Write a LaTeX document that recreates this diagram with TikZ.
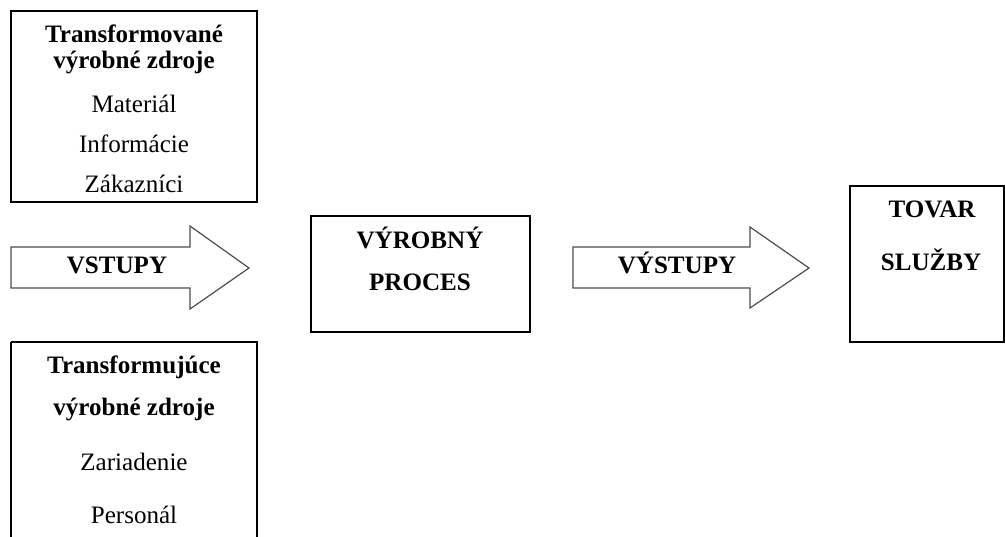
\documentclass[tikz,border=0pt]{standalone}
\usepackage{fontspec}
\setmainfont{Liberation Serif}
\begin{document}
\begin{tikzpicture}[x=0.75pt,y=-0.75pt,
  frame/.style={draw=black,line width=0.9pt},
  blockarrow/.style={draw=black!70,line width=0.9pt,line join=miter},
  head/.style={anchor=base,inner sep=0pt,font=\fontsize{18.8}{22}\selectfont\bfseries},
  item/.style={anchor=base,inner sep=0pt,font=\fontsize{18.8}{22}\selectfont}]
\useasboundingbox (0,0) rectangle (1005,536);

% transformovane zdroje
\draw[frame] (11,11) rectangle (257,202);
\node[head] (tvz1) at (134,42) {Transformované};
\node[head] (tvz2) at (134,68) {výrobné zdroje};
\node[item] (mat) at (134,112) {Materiál};
\node[item] (inf) at (134,152) {Informácie};
\node[item] (zak) at (134,192) {Zákazníci};

% transformujuce zdroje
\draw[frame] (11,342) -- (11,550) (11,342) -- (257,342) -- (257,550);
\node[head] (tjz1) at (134,373) {Transformujúce};
\node[head] (tjz2) at (134,415) {výrobné zdroje};
\node[item] (zar) at (134,470) {Zariadenie};
\node[item] (per) at (134,523) {Personál};

% vstupy
\draw[blockarrow] (11,247) -- (190,247) -- (190,226) -- (249,268) -- (190,309) -- (190,288) -- (11,288) -- cycle;
\node[head] (vst) at (117,273) {VSTUPY};

% proces
\draw[frame] (311,216) rectangle (530,332);
\node[head] (vp1) at (420,248) {VÝROBNÝ};
\node[head] (vp2) at (420,290) {PROCES};

% vystupy
\draw[blockarrow] (573,247) -- (750,247) -- (750,227) -- (809,268) -- (750,308) -- (750,288) -- (573,288) -- cycle;
\node[head] (vys) at (677,273) {VÝSTUPY};

% tovar a sluzby
\draw[frame] (850,186) rectangle (1004,342);
\node[head] (tov) at (932,217) {TOVAR};
\node[head] (slu) at (931,270) {SLUŽBY};
\end{tikzpicture}
\end{document}
